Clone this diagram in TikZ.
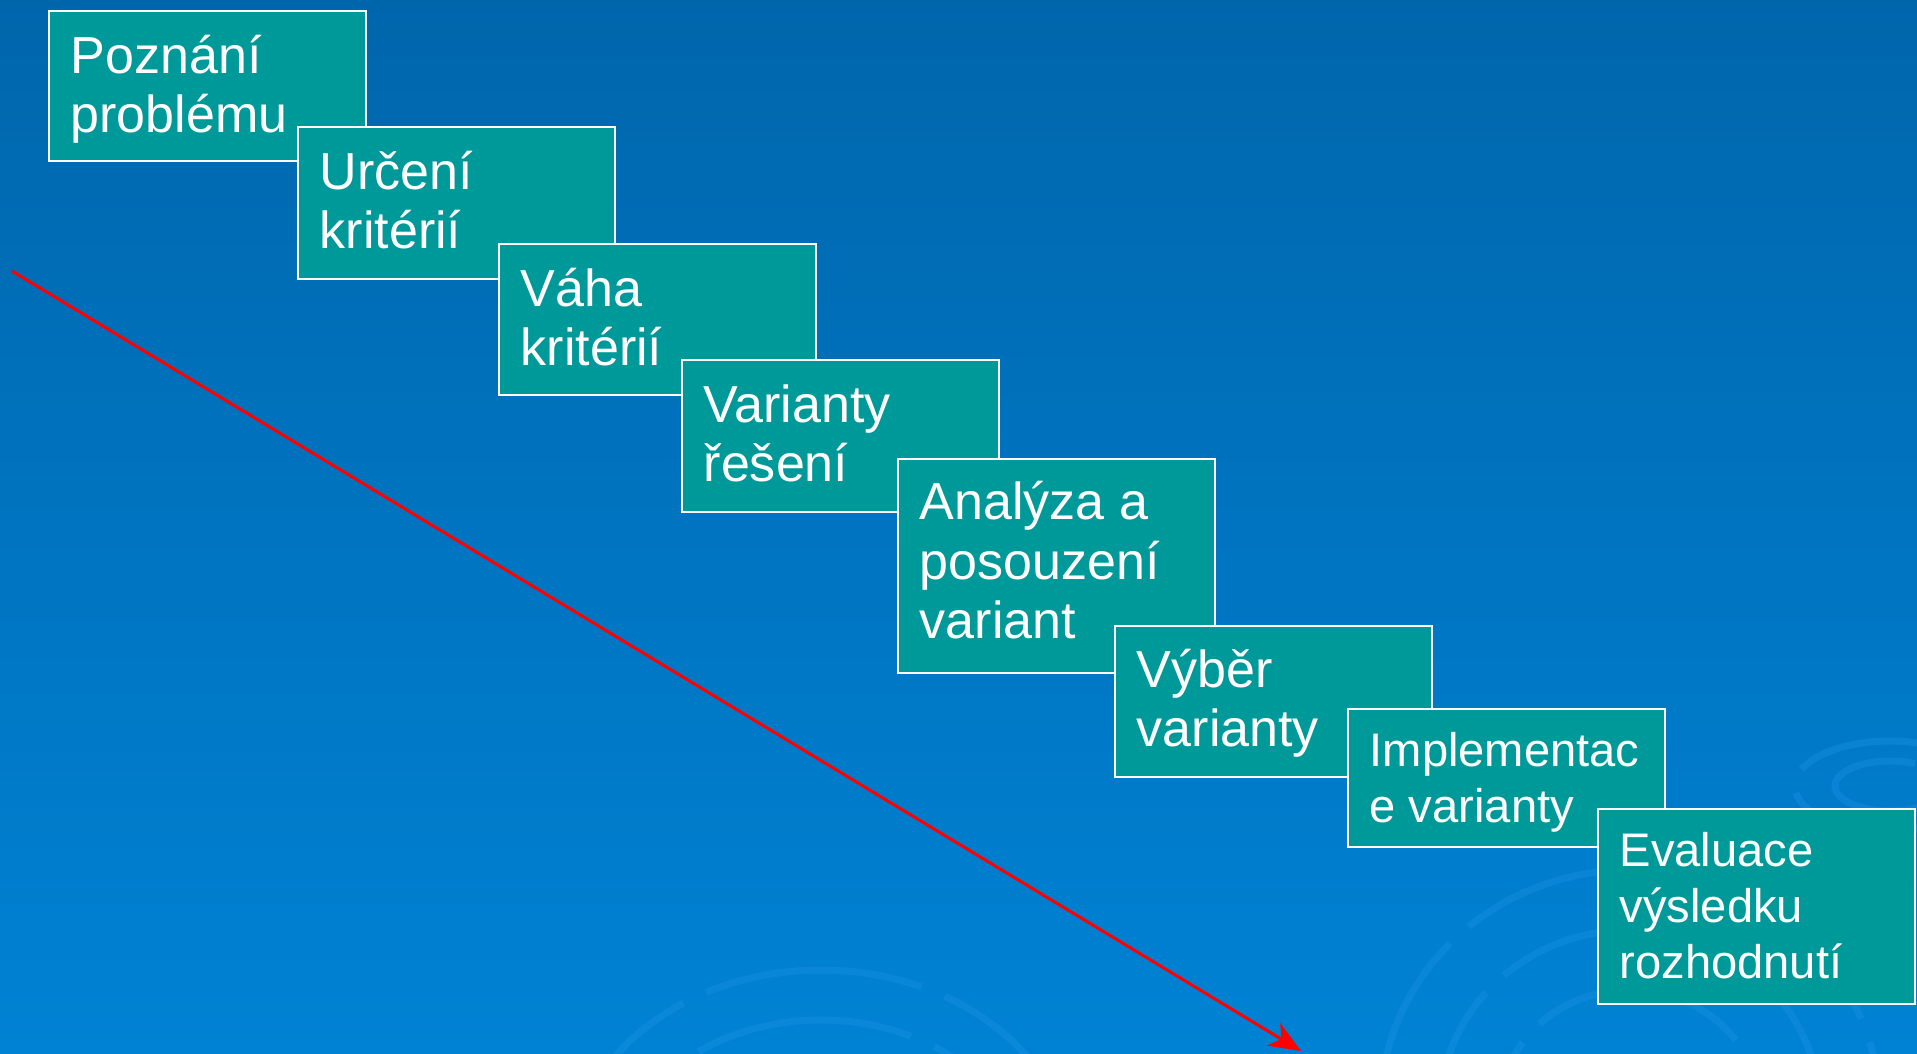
\documentclass[tikz,border=0pt]{standalone}
\usepackage{fontspec}
\setmainfont{Liberation Sans}
\usepackage{tikz}
\usetikzlibrary{arrows.meta,positioning}

\definecolor{pozadiH}{RGB}{0,102,172}
\definecolor{pozadiD}{RGB}{0,130,212}
\definecolor{tyrkys}{RGB}{0,153,153}
\definecolor{kruh}{RGB}{25,145,228}

\begin{document}
\begin{tikzpicture}[x=0.01cm,y=-0.01cm,
	krok/.style={draw=white, fill=tyrkys, line width=0.6pt, minimum width=3.17cm, anchor=north west, inner sep=0pt},
	popis/.style={text=white, align=left, anchor=base west, inner sep=0pt, font=\fontsize{14.8pt}{16.8pt}\selectfont},
	maly/.style={font=\fontsize{13.4pt}{15.9pt}\selectfont}]
		
		\shade[top color=pozadiH, bottom color=pozadiD] (0,0) rectangle (1917,1053);
		\useasboundingbox (0,0) rectangle (1917,1053);
		
		% ozdobne oblouky v pozadi
		\begin{scope}[kruh, line width=0.07cm, opacity=0.4, dash pattern=on 2.2cm off 0.25cm]
		\draw (1630,1110) ellipse (250 and 240);
		\draw (1630,1110) ellipse (190 and 180);
		\draw (1630,1110) ellipse (130 and 120);
		\draw (821,1180) ellipse (255 and 210);
		\draw (821,1180) ellipse (205 and 160);
		\draw (1890,786) ellipse (55 and 25);
		\draw (1890,786) ellipse (95 and 45);
		\end{scope}
		
		% sipka
		\coordinate (start) at (12,271);
		\coordinate (konec) at (1301,1051);
		\draw[red, line width=0.03cm, -{Stealth[length=0.32cm,width=0.26cm,inset=0.09cm]}] (start) -- (konec);
		
		% kroky rozhodovani
		\node[krok, minimum height=1.5cm] (k1) at (48,10) {};
		\node[popis, xshift=0.22cm, yshift=-1.22cm] (t1) at (k1.north west) {Poznání\\problému};
		
		\node[krok, minimum height=1.52cm] (k2) at (297,126) {};
		\node[popis, xshift=0.22cm, yshift=-1.22cm] (t2) at (k2.north west) {Určení\\kritérií};
		
		\node[krok, minimum height=1.51cm] (k3) at (498,243) {};
		\node[popis, xshift=0.22cm, yshift=-1.22cm] (t3) at (k3.north west) {Váha\\kritérií};
		
		\node[krok, minimum height=1.52cm] (k4) at (681,359) {};
		\node[popis, xshift=0.22cm, yshift=-1.22cm] (t4) at (k4.north west) {Varianty\\řešení};
		
		\node[krok, minimum height=2.14cm] (k5) at (897,458) {};
		\node[popis, xshift=0.22cm, yshift=-1.80cm] (t5) at (k5.north west) {Analýza a\\posouzení\\variant};
		
		\node[krok, minimum height=1.51cm] (k6) at (1114,625) {};
		\node[popis, xshift=0.22cm, yshift=-1.21cm] (t6) at (k6.north west) {Výběr\\varianty};
		
		\node[krok, minimum height=1.38cm] (k7) at (1347,708) {};
		\node[popis, maly, xshift=0.22cm, yshift=-1.145cm] (t7) at (k7.north west) {Implementac\\e varianty};
		
		\node[krok, minimum height=1.95cm] (k8) at (1597,808) {};
		\node[popis, maly, xshift=0.22cm, yshift=-1.70cm] (t8) at (k8.north west) {Evaluace\\výsledku\\rozhodnutí};
		
\end{tikzpicture}
\end{document}
